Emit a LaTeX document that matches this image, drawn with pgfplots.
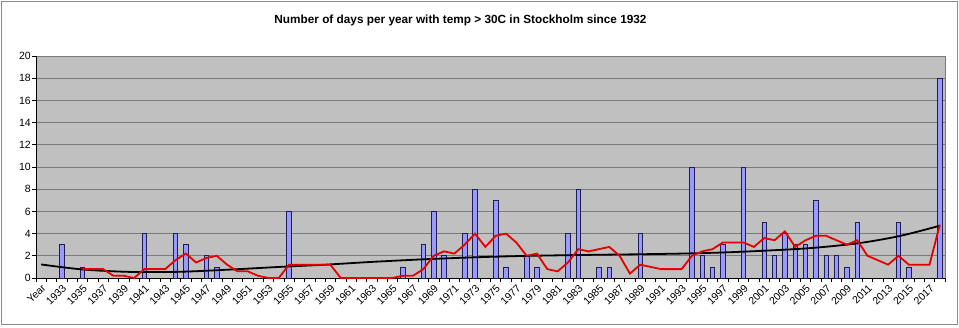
\documentclass[border=0pt]{standalone}
\usepackage{pgfplots}
\pgfplotsset{compat=1.18}
\usepackage{fontspec}
\setmainfont{Liberation Sans}
\definecolor{plotbg}{HTML}{C0C0C0}
\definecolor{gridc}{HTML}{7A7A7A}
\definecolor{barfill}{HTML}{9999FF}
\definecolor{barline}{HTML}{1E1E50}
\definecolor{maline}{HTML}{E60000}
\definecolor{framec}{HTML}{8C8C8C}
\begin{document}
\begin{tikzpicture}[x=1pt,y=1pt]
\useasboundingbox (0,0) rectangle (959,327);
\draw[framec, line width=1.2pt] (1.5,2.5) rectangle (957.5,325.5);
\node[font=\bfseries\fontsize{11.8}{13}\selectfont] at (460.5,306.5) {Number of days per year with temp > 30C in Stockholm since 1932};
\begin{axis}[
  at={(36pt,49pt)}, anchor=south west,
  scale only axis, width=909pt, height=222pt,
  xmin=1930.5, xmax=2018.5, ymin=0, ymax=20,
  axis lines=left,
  axis line style={-, black, line width=0.8pt},
  axis background/.style={fill=plotbg, draw=gridc, line width=0.8pt},
  ytick={0,2,...,20},
  ymajorgrids,
  grid style={gridc, line width=0.8pt},
  xtick={1931,1933,...,2017},
  xticklabels={Year,1933,1935,1937,1939,1941,1943,1945,1947,1949,1951,1953,1955,1957,1959,1961,1963,1965,1967,1969,1971,1973,1975,1977,1979,1981,1983,1985,1987,1989,1991,1993,1995,1997,1999,2001,2003,2005,2007,2009,2011,2013,2015,2017},
  major x tick style={draw=none},
  minor xtick={1930.5,1931.5,...,2018.5},
  minor x tick style={black, line width=0.6pt},
  minor tick length=4pt,
  major tick length=4pt,
  ytick style={black, line width=0.8pt},
  tick align=outside,
  /pgf/number format/assume math mode=true,
  yticklabel style={font=\fontsize{10.5}{12}\selectfont, inner sep=1pt},
  xticklabel style={font=\fontsize{10.5}{12}\selectfont, rotate=45, anchor=north east, inner sep=1pt},
]
\addplot[ybar, bar width=4.5pt, fill=barfill, draw=barline, line width=0.7pt] coordinates {
(1933,3)(1935,1)(1941,4)(1944,4)(1945,3)(1947,2)(1948,1)(1955,6)(1966,1)(1968,3)(1969,6)(1970,2)(1972,4)(1973,8)(1975,7)(1976,1)(1978,2)(1979,1)(1982,4)(1983,8)(1985,1)(1986,1)(1989,4)(1994,10)(1995,2)(1996,1)(1997,3)(1999,10)(2001,5)(2002,2)(2003,4)(2004,3)(2005,3)(2006,7)(2007,2)(2008,2)(2009,1)(2010,5)(2014,5)(2015,1)(2018,18)
};
\addplot[black, line width=1.8pt, smooth] coordinates {
(1931,1.22)(1935,0.77)(1939.6,0.55)(1944.4,0.56)(1949.3,0.76)(1954.1,1.0)(1958.5,1.2)(1963,1.45)(1967.7,1.67)(1972.5,1.85)(1977.4,1.98)(1983,2.07)(1989,2.14)(1994,2.22)(1998.7,2.36)(2005.1,2.67)(2010,3.12)(2014.1,3.78)(2018,4.71)
};
\addplot[maline, line width=1.8pt] coordinates {
(1935,0.8)(1936,0.8)(1937,0.8)(1938,0.2)(1939,0.2)(1940,0)(1941,0.8)(1942,0.8)(1943,0.8)(1944,1.6)(1945,2.2)(1946,1.4)(1947,1.8)(1948,2.0)(1949,1.2)(1950,0.6)(1951,0.6)(1952,0.2)(1953,0)(1954,0)(1955,1.2)(1956,1.2)(1957,1.2)(1958,1.2)(1959,1.2)(1960,0)(1961,0)(1962,0)(1963,0)(1964,0)(1965,0)(1966,0.2)(1967,0.2)(1968,0.8)(1969,2.0)(1970,2.4)(1971,2.2)(1972,3.0)(1973,4.0)(1974,2.8)(1975,3.8)(1976,4.0)(1977,3.2)(1978,2.0)(1979,2.2)(1980,0.8)(1981,0.6)(1982,1.4)(1983,2.6)(1984,2.4)(1985,2.6)(1986,2.8)(1987,2.0)(1988,0.4)(1989,1.2)(1990,1.0)(1991,0.8)(1992,0.8)(1993,0.8)(1994,2.0)(1995,2.4)(1996,2.6)(1997,3.2)(1998,3.2)(1999,3.2)(2000,2.8)(2001,3.6)(2002,3.4)(2003,4.2)(2004,2.8)(2005,3.4)(2006,3.8)(2007,3.8)(2008,3.4)(2009,3.0)(2010,3.4)(2011,2.0)(2012,1.6)(2013,1.2)(2014,2.0)(2015,1.2)(2016,1.2)(2017,1.2)(2018,4.8)
};
\end{axis}
\end{tikzpicture}
\end{document}
